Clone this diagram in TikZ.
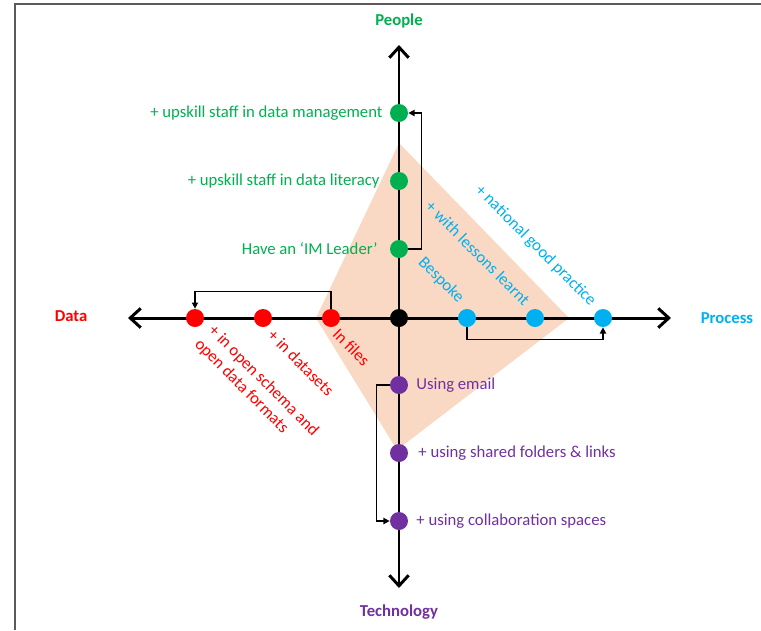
\documentclass[tikz,border=0pt]{standalone}
\usepackage{fontspec}
\setmainfont{Carlito}
\usepackage{tikz}
\usetikzlibrary{arrows.meta,positioning,calc}

\definecolor{peoplegreen}{RGB}{0,176,80}
\definecolor{datared}{RGB}{255,0,0}
\definecolor{procblue}{RGB}{0,176,240}
\definecolor{techpurple}{RGB}{112,48,160}
\definecolor{peach}{RGB}{249,217,196}
\definecolor{framegray}{RGB}{90,90,90}

\begin{document}
\begin{tikzpicture}[
		font=\fontsize{9.5}{11}\selectfont,
		axis/.style={line width=1.7pt, {Straight Barb[length=6pt,width=11pt]}-{Straight Barb[length=6pt,width=11pt]}},
		dot/.style={circle, minimum size=0.36cm, inner sep=0pt},
		link/.style={line width=0.8pt, -{Triangle[length=3.5pt,width=3.5pt]}},
		axislabel/.style={font=\fontsize{9.5}{11}\selectfont\bfseries},
		peoplelabel/.style={text=peoplegreen, inner sep=1pt},
		datalabel/.style={text=datared, rotate=-45, anchor=north west, inner sep=0pt, align=left},
		proclabel/.style={text=procblue, rotate=-45, anchor=south east, inner sep=0pt},
		techlabel/.style={text=techpurple, inner sep=1pt}
		]

		\useasboundingbox (-7.98,-6.24) rectangle (7.24,6.36);
		\draw[framegray, line width=1pt] (7.24,6.28) -- (-7.68,6.28) -- (-7.68,-6.24);

		% shaded maturity area
		\fill[peach] (0,3.5) -- (3.4,0) -- (-0.04,-2.64) -- (-1.66,0) -- cycle;

		\coordinate (dataend) at (-5.42,0);
		\coordinate (procend) at (5.44,0);
		\coordinate (peopleend) at (0,5.46);
		\coordinate (techend) at (0,-5.40);
		\draw[axis] (dataend) -- (procend);
		\draw[axis] (peopleend) -- (techend);

		\node[axislabel, text=peoplegreen] (people) at (0,5.94) {People};
		\node[axislabel, text=techpurple] (tech) at (0,-5.88) {Technology};
		\node[axislabel, text=datared] (data) at (-6.56,0.04) {Data};
		\node[axislabel, text=procblue] (process) at (6.56,0) {Process};

		\node[dot, fill=black] (origin) at (0,0) {};
		\node[dot, fill=peoplegreen] (g1) at (0,4.1) {};
		\node[dot, fill=peoplegreen] (g2) at (0,2.74) {};
		\node[dot, fill=peoplegreen] (g3) at (0,1.38) {};
		\node[dot, fill=datared] (r1) at (-1.36,0) {};
		\node[dot, fill=datared] (r2) at (-2.72,0) {};
		\node[dot, fill=datared] (r3) at (-4.08,0) {};
		\node[dot, fill=procblue] (b1) at (1.36,0) {};
		\node[dot, fill=procblue] (b2) at (2.72,0) {};
		\node[dot, fill=procblue] (b3) at (4.08,0) {};
		\node[dot, fill=techpurple] (p1) at (0,-1.34) {};
		\node[dot, fill=techpurple] (p2) at (0,-2.70) {};
		\node[dot, fill=techpurple] (p3) at (0,-4.06) {};

		\node[peoplelabel, left=0.1cm of g1] (g1text) {+ upskill staff in data management};
		\node[peoplelabel, left=0.16cm of g2] (g2text) {+ upskill staff in data literacy};
		\node[peoplelabel, left=0.2cm of g3] (g3text) {Have an ‘IM Leader’};

		\node[techlabel, right=0.12cm of p1] (p1text) {Using email};
		\node[techlabel, right=0.16cm of p2] (p2text) {+ using shared folders \& links};
		\node[techlabel, right=0.12cm of p3] (p3text) {+ using collaboration spaces};

		\node[datalabel] (r1text) at (-1.18,-0.18) {In files};
		\node[datalabel] (r2text) at (-2.48,-0.2) {+ in datasets};
		\node[datalabel] (r3text) at (-3.66,-0.1) {+ in open schema and\\open data formats};

		\node[proclabel] (b1text) at (1.14,0.24) {Bespoke};
		\node[proclabel] (b2text) at (2.48,0.22) {+ with lessons learnt};
		\node[proclabel] (b3text) at (3.78,0.18) {+ national good practice};

		\draw[link] (g3.east) -- ++(0.26,0) |- (g1.east);
		\draw[link] (r1.north) -- ++(0,0.34) -| (r3.north);
		\draw[link] (b1.south) -- ++(0,-0.24) -| (b3.south);
		\draw[link] (p1.west) -- ++(-0.26,0) |- (p3.west);
	\end{tikzpicture}
\end{document}
